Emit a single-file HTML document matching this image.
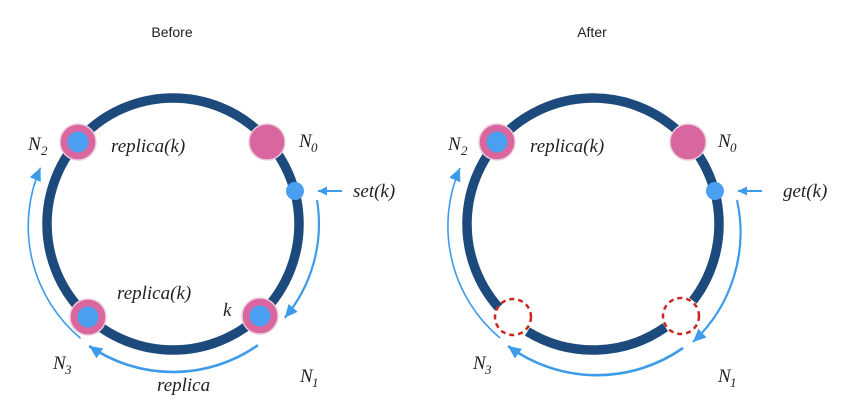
<!DOCTYPE html>
<html><head><meta charset="utf-8"><style>
html,body{margin:0;padding:0;background:#fff;}
svg{display:block;}
.t{font-family:"Liberation Serif",serif;font-style:italic;font-size:19px;fill:#222;}
.s{font-family:"Liberation Serif",serif;font-style:italic;font-size:13px;fill:#222;}
.h{font-family:"Liberation Sans",sans-serif;font-size:14px;fill:#222;}
</style></head><body>
<svg width="847" height="420" viewBox="0 0 847 420" xmlns="http://www.w3.org/2000/svg">
<defs>
<marker id="ah" markerUnits="userSpaceOnUse" markerWidth="15" markerHeight="13" refX="13" refY="6" orient="auto">
<path d="M0,0 L13,6 L0,12 Z" fill="#3d9be9"/>
</marker>
<marker id="ahs" markerUnits="userSpaceOnUse" markerWidth="10" markerHeight="10" refX="9" refY="4.5" orient="auto">
<path d="M0,0 L9,4.5 L0,9 Z" fill="#3d9be9"/>
</marker>
</defs>
<rect width="847" height="420" fill="#fff"/>

<text class="h" x="172" y="37" text-anchor="middle">Before</text>
<text class="h" x="592" y="37" text-anchor="middle">After</text>

<!-- LEFT DIAGRAM -->
<circle cx="173" cy="224" r="126" fill="none" stroke="#1d4a7c" stroke-width="9.5"/>
<path d="M317,200.2 A146,146 0 0 1 284.8,317.8" fill="none" stroke="#3d9be9" stroke-width="2.2" marker-end="url(#ah)"/>
<path d="M257.9,345.2 A148,148 0 0 1 89.2,346" fill="none" stroke="#3d9be9" stroke-width="2.6" marker-end="url(#ah)"/>
<path d="M80.5,338.2 A146,146 0 0 1 40.5,167.7" fill="none" stroke="#3d9be9" stroke-width="1.6" marker-end="url(#ah)"/>
<line x1="342" y1="191" x2="318" y2="191" stroke="#3d9be9" stroke-width="2" marker-end="url(#ahs)"/>
<circle cx="78" cy="142" r="18" fill="#d9669f" stroke="#ecc9d9" stroke-width="1.5"/>
<circle cx="78" cy="142" r="10.5" fill="#4a9ff0"/>
<circle cx="267" cy="142" r="18" fill="#d9669f" stroke="#ecc9d9" stroke-width="1.5"/>
<circle cx="295" cy="191" r="9" fill="#4a9ff0"/>
<circle cx="88" cy="317" r="18" fill="#d9669f" stroke="#ecc9d9" stroke-width="1.5"/>
<circle cx="88" cy="317" r="10.5" fill="#4a9ff0"/>
<circle cx="260" cy="316" r="18" fill="#d9669f" stroke="#ecc9d9" stroke-width="1.5"/>
<circle cx="260" cy="316" r="10.5" fill="#4a9ff0"/>
<text class="t" x="28" y="150">N</text><text class="s" x="41" y="155">2</text>
<text class="t" x="111" y="152">replica(k)</text>
<text class="t" x="299" y="147">N</text><text class="s" x="311" y="152">0</text>
<text class="t" x="353" y="197">set(k)</text>
<text class="t" x="117" y="299">replica(k)</text>
<text class="t" x="223" y="316">k</text>
<text class="t" x="53" y="369">N</text><text class="s" x="65" y="374">3</text>
<text class="t" x="157" y="391">replica</text>
<text class="t" x="300" y="382">N</text><text class="s" x="312" y="387">1</text>

<!-- RIGHT DIAGRAM -->
<path d="M665.3,327.2 A126,126 0 0 1 527.4,331.6" fill="none" stroke="#1d4a7c" stroke-width="9.5"/>
<path d="M498.6,307.5 A126,126 0 1 1 693,300.7" fill="none" stroke="#1d4a7c" stroke-width="9.5"/>
<circle cx="513" cy="317" r="18" fill="none" stroke="#c8281e" stroke-width="2.5" stroke-dasharray="5,4"/>
<circle cx="681" cy="316" r="18" fill="none" stroke="#c8281e" stroke-width="2.5" stroke-dasharray="5,4"/>
<path d="M737,200.2 A150,150 0 0 1 693,342" fill="none" stroke="#3d9be9" stroke-width="2.2" marker-end="url(#ah)"/>
<path d="M683,348 A150,150 0 0 1 508,346" fill="none" stroke="#3d9be9" stroke-width="2.6" marker-end="url(#ah)"/>
<path d="M500,338 A146,146 0 0 1 460,168" fill="none" stroke="#3d9be9" stroke-width="1.6" marker-end="url(#ah)"/>
<line x1="762" y1="191" x2="738" y2="191" stroke="#3d9be9" stroke-width="2" marker-end="url(#ahs)"/>
<circle cx="497" cy="142" r="18" fill="#d9669f" stroke="#ecc9d9" stroke-width="1.5"/>
<circle cx="497" cy="142" r="10.5" fill="#4a9ff0"/>
<circle cx="688" cy="142" r="18" fill="#d9669f" stroke="#ecc9d9" stroke-width="1.5"/>
<circle cx="715" cy="191" r="9" fill="#4a9ff0"/>
<text class="t" x="448" y="150">N</text><text class="s" x="461" y="155">2</text>
<text class="t" x="530" y="152">replica(k)</text>
<text class="t" x="718" y="147">N</text><text class="s" x="730" y="152">0</text>
<text class="t" x="783" y="197">get(k)</text>
<text class="t" x="473" y="369">N</text><text class="s" x="485" y="374">3</text>
<text class="t" x="718" y="382">N</text><text class="s" x="730" y="387">1</text>
</svg>
</body></html>
